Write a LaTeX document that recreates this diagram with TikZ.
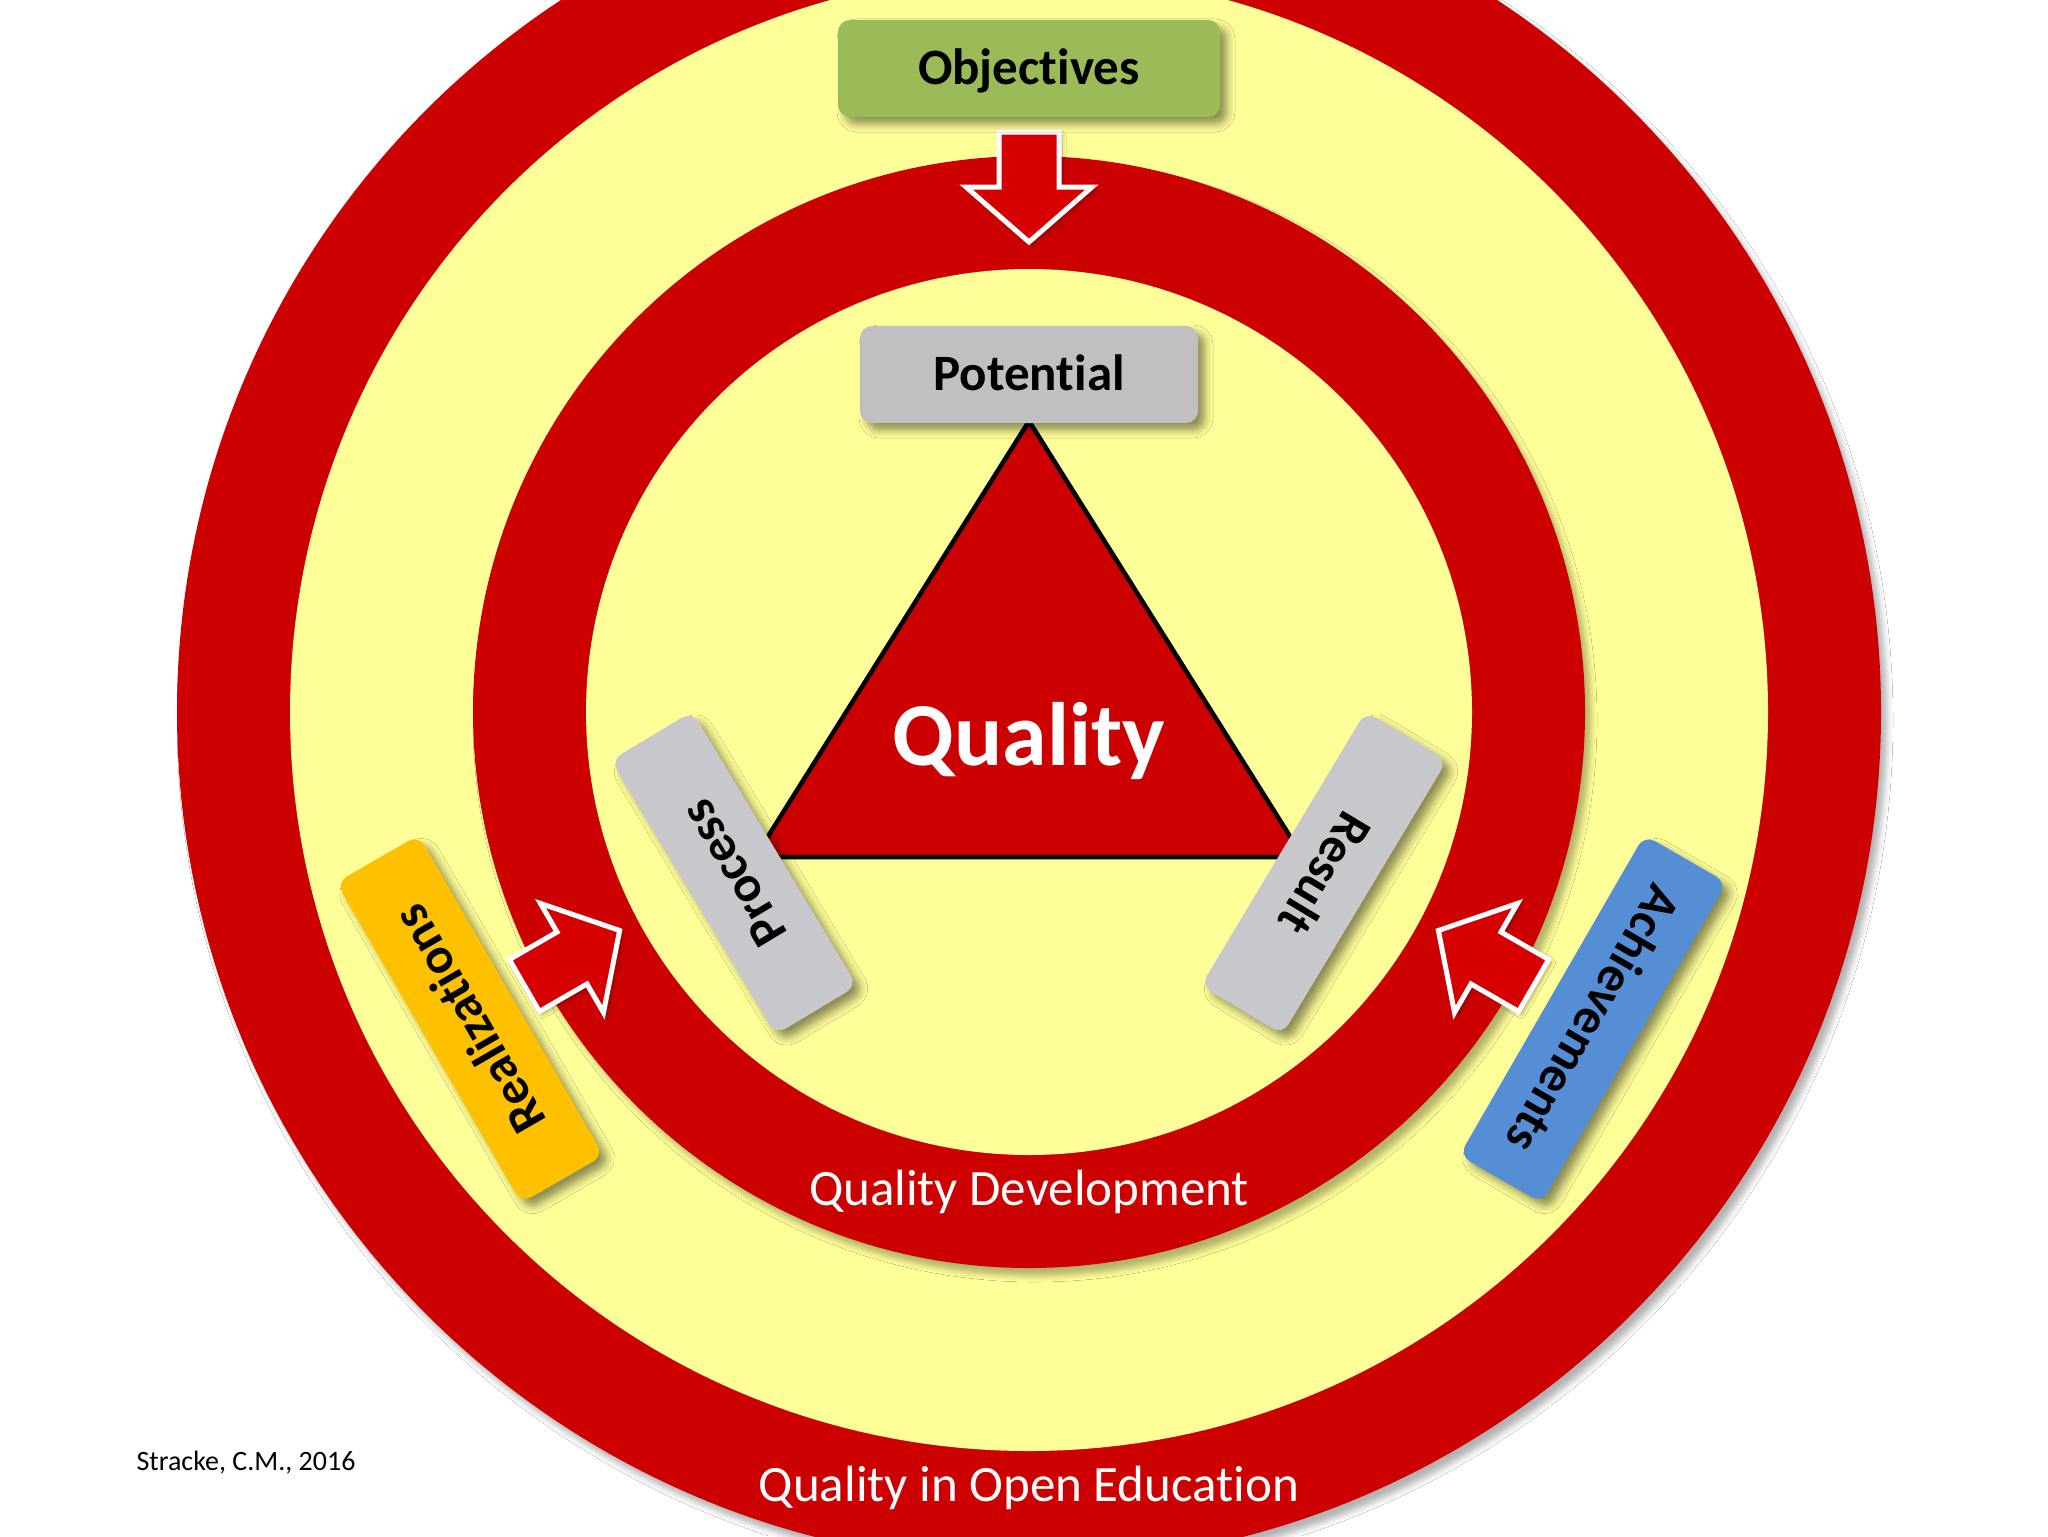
\documentclass[tikz,border=0pt]{standalone}
\usepackage{fontspec}
\setmainfont{Carlito}[Ligatures=NoCommon]
\usetikzlibrary{shadows.blur}
\definecolor{qred}{RGB}{204,0,0}
\definecolor{qarrow}{RGB}{214,0,0}
\definecolor{qyellow}{RGB}{255,255,153}
\definecolor{qgreen}{RGB}{155,187,89}
\definecolor{qgray}{RGB}{192,192,195}
\definecolor{qgraylight}{RGB}{200,200,204}
\definecolor{qorange}{RGB}{255,192,0}
\definecolor{qblue}{RGB}{85,142,213}
\tikzset{
  lbl/.style={font=\bfseries\fontsize{25.5}{30}\selectfont, text=black,
    rounded corners=6pt, inner sep=0pt, text height=16pt, text depth=0pt,
    blur shadow={shadow xshift=3.5pt, shadow yshift=-3.5pt, shadow blur radius=4pt, shadow opacity=45}},
  ringshadow/.style={blur shadow={shadow xshift=3pt, shadow yshift=-4pt, shadow blur radius=3pt, shadow opacity=30}},
  whitetext/.style={text=white, anchor=base, inner sep=0pt},
  blockarrow/.pic={
    \path[fill=qarrow, draw=white, line width=2.5pt, line join=miter,
      blur shadow={shadow xshift=1.5pt, shadow yshift=-1.5pt, shadow blur radius=2pt, shadow opacity=35}]
      (-55,-30) -- (0,-30) -- (0,-63) -- (55,0) -- (0,63) -- (0,30) -- (-55,30) -- cycle;
  }
}
\begin{document}
\begin{tikzpicture}[x=0.5pt,y=-0.5pt]
\useasboundingbox (0,0) rectangle (2048,1536);
\fill[white] (0,0) rectangle (2048,1536);
\clip (0,0) rectangle (2048,1536);
\coordinate (c) at (1029,712);
% rings
\path[fill=qred, ringshadow] (c) circle[radius=852];
\path[fill=qyellow] (c) circle[radius=739];
\path[fill=qred, ringshadow] (c) circle[radius=556];
\path[fill=qyellow] (c) circle[radius=443];
% triangle
\draw[black, line width=2.25pt, fill=qred, line join=round] (1029,421) -- (755,857) -- (1303,857) -- cycle;
\node[font=\bfseries\fontsize{45}{50}\selectfont, whitetext] (quality) at (1029,765) {Quality};
% ring labels
\node[font=\fontsize{25.5}{30}\selectfont, whitetext] (qdev) at (1029,1205) {Quality Development};
\node[font=\fontsize{25.5}{30}\selectfont, whitetext] (qoe) at (1029,1501) {Quality in Open Education};
\node[font=\fontsize{14}{16}\selectfont, anchor=base, inner sep=0pt] (src) at (246,1470) {Stracke, C.M., 2016};
% arrows
\pic[rotate=-90] (arrT) at (1029,187) {blockarrow};
\pic[rotate=30] (arrL) at (572,958) {blockarrow};
\pic[rotate=150] (arrR) at (1486,958) {blockarrow};
% boxes
\node[lbl, fill=qgreen, minimum width=191pt, minimum height=48.5pt] (obj) at (1029,68.5) {Objectives};
\node[lbl, fill=qgray, minimum width=169pt, minimum height=48.5pt] (pot) at (1029,374.5) {Potential};
\node[lbl, fill=qgraylight, minimum width=160pt, minimum height=47.5pt, rotate=121] (proc) at (734,873) {Process};
\node[lbl, fill=qgraylight, minimum width=160pt, minimum height=47.5pt, rotate=-121] (res) at (1324,873) {Result};
\node[lbl, fill=qorange, minimum width=185pt, minimum height=47.5pt, rotate=120] (real) at (470,1019) {Realizations};
\node[lbl, fill=qblue, minimum width=185pt, minimum height=47.5pt, rotate=-120] (ach) at (1593,1019) {Achievements};
\end{tikzpicture}
\end{document}
